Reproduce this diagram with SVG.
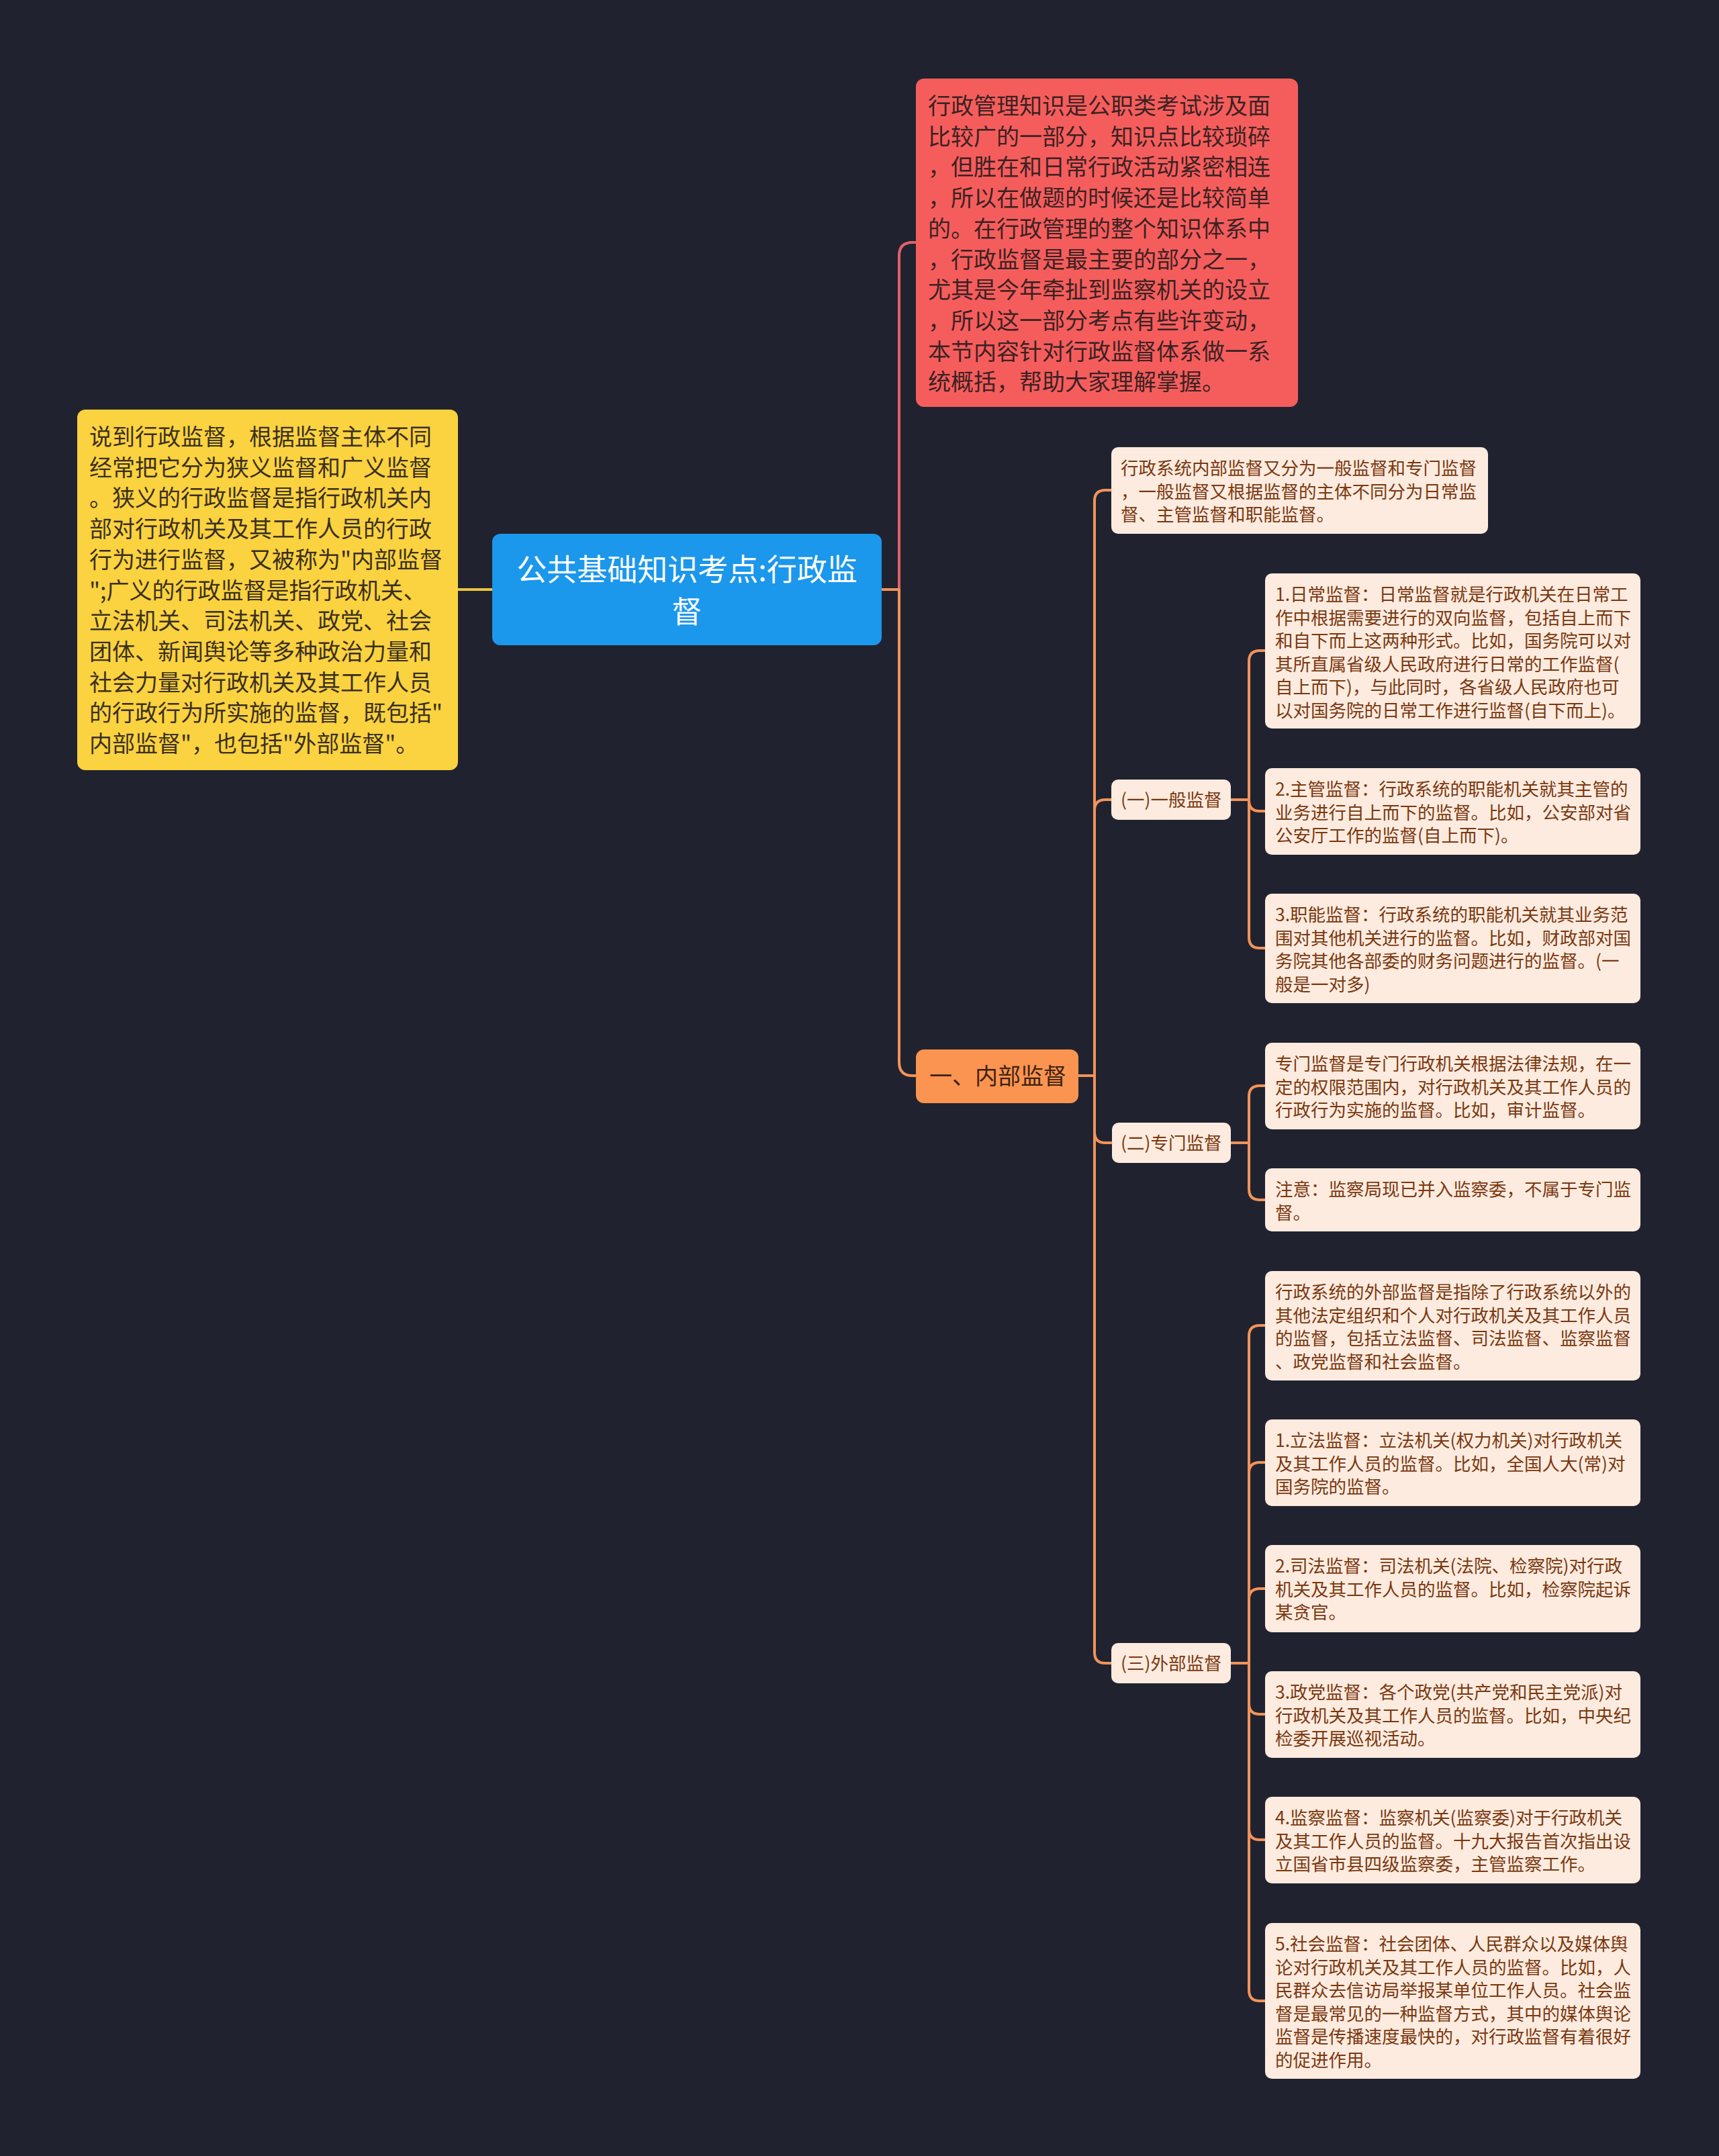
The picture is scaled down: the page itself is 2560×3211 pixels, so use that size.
<svg xmlns="http://www.w3.org/2000/svg" width="2560" height="3211" viewBox="0 0 2560 3211">
<style>
text{font-family:"Noto Sans CJK SC","Noto Sans",sans-serif;}
.big{font-size:34px;}
.sm{font-size:26.5px;fill:#7a3810;}
.peach{fill:#fdebdf;}
.c{fill:none;stroke-width:4;stroke-linecap:round;stroke-linejoin:round;}
.co{stroke:#f2935a;}
.cr{stroke:#e2616a;}
.cy{stroke:#eec241;}
</style>
<rect x="0" y="0" width="2560" height="3211" fill="#20232f"/>
<g id="connectors">
<path class="c cy" d="M733,878 H682"/>
<path class="c cr" d="M1313,878 H1339 V381 Q1339,361 1359,361 H1364"/>
<path class="c co" d="M1313,878 H1339 V1582 Q1339,1602 1359,1602 H1364"/>
<path class="c co" d="M1604,1602 H1630 V746 Q1630,730 1646,730 H1655"/>
<path class="c co" d="M1604,1602 H1630 V1207 Q1630,1191 1646,1191 H1655"/>
<path class="c co" d="M1604,1602 H1630 V1686 Q1630,1702 1646,1702 H1656"/>
<path class="c co" d="M1604,1602 H1630 V2461 Q1630,2477 1646,2477 H1655"/>
<path class="c co" d="M1833,1191 H1860 V985 Q1860,969 1876,969 H1884"/>
<path class="c co" d="M1833,1191 H1860 V1192 Q1860,1208 1876,1208 H1884"/>
<path class="c co" d="M1833,1191 H1860 V1396 Q1860,1412 1876,1412 H1884"/>
<path class="c co" d="M1833,1702 H1860 V1633 Q1860,1617 1876,1617 H1884"/>
<path class="c co" d="M1833,1702 H1860 V1771 Q1860,1787 1876,1787 H1884"/>
<path class="c co" d="M1833,2477 H1860 V1990 Q1860,1974 1876,1974 H1884"/>
<path class="c co" d="M1833,2477 H1860 V2194 Q1860,2178 1876,2178 H1884"/>
<path class="c co" d="M1833,2477 H1860 V2382 Q1860,2366 1876,2366 H1884"/>
<path class="c co" d="M1833,2477 H1860 V2537 Q1860,2553 1876,2553 H1884"/>
<path class="c co" d="M1833,2477 H1860 V2724 Q1860,2740 1876,2740 H1884"/>
<path class="c co" d="M1833,2477 H1860 V2964 Q1860,2980 1876,2980 H1884"/>
</g>
<g id="root">
<rect x="733" y="795" width="580" height="166" rx="12" fill="#1b97ec"/>
<text x="1023" y="865" font-size="45" fill="#ffffff" text-anchor="middle">公共基础知识考点:行政监</text>
<text x="1023" y="928" font-size="45" fill="#ffffff" text-anchor="middle">督</text>
</g>
<g id="intro-red">
<rect x="1364" y="117" width="569" height="489" rx="12" fill="#f55d5d"/>
<text class="big" fill="#3b2222">
<tspan x="1382" y="170">行政管理知识是公职类考试涉及面</tspan>
<tspan x="1382" y="215.7">比较广的一部分，知识点比较琐碎</tspan>
<tspan x="1382" y="261.4">，但胜在和日常行政活动紧密相连</tspan>
<tspan x="1382" y="307.1">，所以在做题的时候还是比较简单</tspan>
<tspan x="1382" y="352.8">的。在行政管理的整个知识体系中</tspan>
<tspan x="1382" y="398.5">，行政监督是最主要的部分之一，</tspan>
<tspan x="1382" y="444.2">尤其是今年牵扯到监察机关的设立</tspan>
<tspan x="1382" y="489.9">，所以这一部分考点有些许变动，</tspan>
<tspan x="1382" y="535.6">本节内容针对行政监督体系做一系</tspan>
<tspan x="1382" y="581.3">统概括，帮助大家理解掌握。</tspan>
</text>
</g>
<g id="intro-yellow">
<rect x="115" y="610" width="567" height="537" rx="12" fill="#fbd23f"/>
<text class="big" fill="#3a3020">
<tspan x="133" y="663">说到行政监督，根据监督主体不同</tspan>
<tspan x="133" y="708.7">经常把它分为狭义监督和广义监督</tspan>
<tspan x="133" y="754.4">。狭义的行政监督是指行政机关内</tspan>
<tspan x="133" y="800.1">部对行政机关及其工作人员的行政</tspan>
<tspan x="133" y="845.8">行为进行监督，又被称为"内部监督</tspan>
<tspan x="133" y="891.5">";广义的行政监督是指行政机关、</tspan>
<tspan x="133" y="937.2">立法机关、司法机关、政党、社会</tspan>
<tspan x="133" y="982.9">团体、新闻舆论等多种政治力量和</tspan>
<tspan x="133" y="1028.6">社会力量对行政机关及其工作人员</tspan>
<tspan x="133" y="1074.3">的行政行为所实施的监督，既包括"</tspan>
<tspan x="133" y="1120">内部监督"，也包括"外部监督"。</tspan>
</text>
</g>
<g id="internal">
<rect x="1364" y="1563" width="242" height="80" rx="12" fill="#fb9450"/>
<text class="big" x="1384" y="1615" fill="#3d2210">一、内部监督</text>
</g>
<g id="internal-intro">
<rect class="peach" x="1655" y="666" width="561" height="129" rx="10"/>
<text class="sm"><tspan x="1669" y="707">行政系统内部监督又分为一般监督和专门监督</tspan><tspan x="1669" y="741.5">，一般监督又根据监督的主体不同分为日常监</tspan><tspan x="1669" y="776">督、主管监督和职能监督。</tspan></text>
</g>
<g id="general">
<rect class="peach" x="1655" y="1161" width="178" height="60" rx="10"/>
<text class="sm" x="1669" y="1201">(一)一般监督</text>
</g>
<g id="daily">
<rect class="peach" x="1884" y="854" width="559" height="231" rx="10"/>
<text class="sm"><tspan x="1899" y="895">1.日常监督：日常监督就是行政机关在日常工</tspan><tspan x="1899" y="929.5">作中根据需要进行的双向监督，包括自上而下</tspan><tspan x="1899" y="964">和自下而上这两种形式。比如，国务院可以对</tspan><tspan x="1899" y="998.5">其所直属省级人民政府进行日常的工作监督(</tspan><tspan x="1899" y="1033">自上而下)，与此同时，各省级人民政府也可</tspan><tspan x="1899" y="1067.5">以对国务院的日常工作进行监督(自下而上)。</tspan></text>
</g>
<g id="competent">
<rect class="peach" x="1884" y="1144" width="559" height="129" rx="10"/>
<text class="sm"><tspan x="1899" y="1185">2.主管监督：行政系统的职能机关就其主管的</tspan><tspan x="1899" y="1219.5">业务进行自上而下的监督。比如，公安部对省</tspan><tspan x="1899" y="1254">公安厅工作的监督(自上而下)。</tspan></text>
</g>
<g id="functional">
<rect class="peach" x="1884" y="1331" width="559" height="163" rx="10"/>
<text class="sm"><tspan x="1899" y="1372">3.职能监督：行政系统的职能机关就其业务范</tspan><tspan x="1899" y="1406.5">围对其他机关进行的监督。比如，财政部对国</tspan><tspan x="1899" y="1441">务院其他各部委的财务问题进行的监督。(一</tspan><tspan x="1899" y="1475.5">般是一对多)</tspan></text>
</g>
<g id="special">
<rect class="peach" x="1656" y="1672" width="177" height="60" rx="10"/>
<text class="sm" x="1669" y="1712">(二)专门监督</text>
</g>
<g id="special-def">
<rect class="peach" x="1884" y="1553" width="559" height="129" rx="10"/>
<text class="sm"><tspan x="1899" y="1594">专门监督是专门行政机关根据法律法规，在一</tspan><tspan x="1899" y="1628.5">定的权限范围内，对行政机关及其工作人员的</tspan><tspan x="1899" y="1663">行政行为实施的监督。比如，审计监督。</tspan></text>
</g>
<g id="special-note">
<rect class="peach" x="1884" y="1740" width="559" height="94" rx="10"/>
<text class="sm"><tspan x="1899" y="1781">注意：监察局现已并入监察委，不属于专门监</tspan><tspan x="1899" y="1815.5">督。</tspan></text>
</g>
<g id="external">
<rect class="peach" x="1655" y="2447" width="178" height="60" rx="10"/>
<text class="sm" x="1669" y="2487">(三)外部监督</text>
</g>
<g id="external-def">
<rect class="peach" x="1884" y="1893" width="559" height="163" rx="10"/>
<text class="sm"><tspan x="1899" y="1934">行政系统的外部监督是指除了行政系统以外的</tspan><tspan x="1899" y="1968.5">其他法定组织和个人对行政机关及其工作人员</tspan><tspan x="1899" y="2003">的监督，包括立法监督、司法监督、监察监督</tspan><tspan x="1899" y="2037.5">、政党监督和社会监督。</tspan></text>
</g>
<g id="legislative">
<rect class="peach" x="1884" y="2114" width="559" height="129" rx="10"/>
<text class="sm"><tspan x="1899" y="2155">1.立法监督：立法机关(权力机关)对行政机关</tspan><tspan x="1899" y="2189.5">及其工作人员的监督。比如，全国人大(常)对</tspan><tspan x="1899" y="2224">国务院的监督。</tspan></text>
</g>
<g id="judicial">
<rect class="peach" x="1884" y="2301" width="559" height="130" rx="10"/>
<text class="sm"><tspan x="1899" y="2342">2.司法监督：司法机关(法院、检察院)对行政</tspan><tspan x="1899" y="2376.5">机关及其工作人员的监督。比如，检察院起诉</tspan><tspan x="1899" y="2411">某贪官。</tspan></text>
</g>
<g id="party">
<rect class="peach" x="1884" y="2489" width="559" height="129" rx="10"/>
<text class="sm"><tspan x="1899" y="2530">3.政党监督：各个政党(共产党和民主党派)对</tspan><tspan x="1899" y="2564.5">行政机关及其工作人员的监督。比如，中央纪</tspan><tspan x="1899" y="2599">检委开展巡视活动。</tspan></text>
</g>
<g id="supervisory">
<rect class="peach" x="1884" y="2676" width="559" height="129" rx="10"/>
<text class="sm"><tspan x="1899" y="2717">4.监察监督：监察机关(监察委)对于行政机关</tspan><tspan x="1899" y="2751.5">及其工作人员的监督。十九大报告首次指出设</tspan><tspan x="1899" y="2786">立国省市县四级监察委，主管监察工作。</tspan></text>
</g>
<g id="social">
<rect class="peach" x="1884" y="2864" width="559" height="232" rx="10"/>
<text class="sm"><tspan x="1899" y="2905">5.社会监督：社会团体、人民群众以及媒体舆</tspan><tspan x="1899" y="2939.5">论对行政机关及其工作人员的监督。比如，人</tspan><tspan x="1899" y="2974">民群众去信访局举报某单位工作人员。社会监</tspan><tspan x="1899" y="3008.5">督是最常见的一种监督方式，其中的媒体舆论</tspan><tspan x="1899" y="3043">监督是传播速度最快的，对行政监督有着很好</tspan><tspan x="1899" y="3077.5">的促进作用。</tspan></text>
</g>
</svg>
